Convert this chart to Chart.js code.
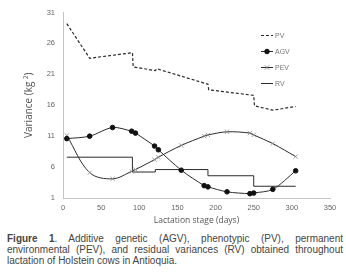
<!DOCTYPE html>
<html>
<head>
<meta charset="utf-8">
<script src="https://cdn.jsdelivr.net/npm/chart.js@4.4.0/dist/chart.umd.min.js"></script>
<style>
  html, body { margin: 0; padding: 0; background: #fff; }
  #wrap { position: relative; width: 346px; height: 230px; }
  #caption {
    width: 336px; margin: 3px 0 0 7px;
    font-family: "Liberation Sans", Arial, sans-serif;
    font-size: 10px; line-height: 11px; color: #444;
  }
  #caption .j { text-align: justify; text-align-last: justify; white-space: nowrap; }
</style>
</head>
<body>
<div id="wrap"><canvas id="myChart"></canvas></div>
<div id="caption">
  <div class="j"><b>Figure 1</b>. Additive genetic (AGV), phenotypic (PV), permanent</div>
  <div class="j">environmental (PEV), and residual variances (RV) obtained throughout</div>
  <div>lactation of Holstein cows in Antioquia.</div>
</div>
<script>
// lactation days of the test-day records
const days = [5, 35, 65, 90, 95, 120, 125, 155, 185, 190, 215, 245, 250, 275, 305];
const agv = [10.6, 11.0, 12.4, 11.8, 11.5, 9.4, 8.8, 5.5, 3.0, 2.8, 2.0, 1.7, 1.8, 2.4, 5.4];
const pev = [11.1, 5.1, 4.1, 5.3, 5.6, 7.2, 7.6, 9.5, 11.0, 11.2, 11.7, 11.5, 11.2, 9.8, 7.7];

// phenotypic variance (drops where residual class changes)
const pvDays = [5, 35, 91, 92, 121, 123, 190, 191, 250, 251, 275, 305];
const pv = [29.2, 23.6, 24.5, 22.2, 21.6, 21.9, 19.4, 18.5, 17.6, 15.9, 15.2, 15.8];

// residual variance, step classes
const rvDays = [5, 91, 121, 190, 250, 305];
const rv = [7.6, 5.2, 5.6, 4.6, 2.9, 2.9];

const xTicks = [0, 50, 100, 150, 200, 250, 300, 350];
const yTicks = [1, 6, 11, 16, 21, 26, 31];

const toXY = (xs, ys) => xs.map((x, i) => ({ x: x, y: ys[i] }));

const lineCol = '#2b2b2b';

// legend drawn inside the plot, Excel style (line with marker in the middle)
const innerLegend = {
    id: 'innerLegend',
    afterDraw(chart) {
        const ctx = chart.ctx;
        const area = chart.chartArea;
        const x0 = area.right - 69;
        let y = area.top + 23;
        ctx.save();
        ctx.font = '7px "Liberation Sans", Arial, sans-serif';
        ctx.textBaseline = 'middle';
        chart.data.datasets.forEach(ds => {
            ctx.strokeStyle = ds.borderColor;
            ctx.lineWidth = ds.borderWidth;
            ctx.setLineDash(ds.borderDash || []);
            ctx.beginPath();
            ctx.moveTo(x0, y);
            ctx.lineTo(x0 + 12, y);
            ctx.stroke();
            ctx.setLineDash([]);
            if (ds.pointRadius > 0) {
                ctx.fillStyle = ds.pointBackgroundColor;
                ctx.strokeStyle = ds.pointBorderColor;
                Chart.helpers.drawPoint(ctx, {
                    pointStyle: ds.pointStyle,
                    radius: ds.pointRadius,
                    borderWidth: 1
                }, x0 + 6, y);
            }
            ctx.fillStyle = '#777';
            ctx.fillText(ds.label, x0 + 14, y + 0.5);
            y += 16;
        });
        ctx.restore();
    }
};

const ctx = document.getElementById('myChart').getContext('2d');
new Chart(ctx, {
    type: 'line',
    data: {
        datasets: [{
            label: 'PV',
            data: toXY(pvDays, pv),
            borderColor: lineCol,
            borderWidth: 1.2,
            borderDash: [3, 2],
            pointRadius: 0,
            tension: 0
        }, {
            label: 'AGV',
            data: toXY(days, agv),
            borderColor: lineCol,
            borderWidth: 1,
            pointStyle: 'circle',
            pointRadius: 2.3,
            pointBackgroundColor: '#111',
            pointBorderColor: '#111',
            tension: 0.3
        }, {
            label: 'PEV',
            data: toXY(days, pev),
            borderColor: lineCol,
            borderWidth: 1,
            pointStyle: 'crossRot',
            pointRadius: 3,
            pointBorderColor: '#888',
            pointBorderWidth: 0.8,
            pointBackgroundColor: '#888',
            tension: 0.35
        }, {
            label: 'RV',
            data: toXY(rvDays, rv),
            borderColor: lineCol,
            borderWidth: 1,
            pointRadius: 0,
            stepped: true
        }]
    },
    options: {
        responsive: true,
        maintainAspectRatio: false,
        animation: false,
        layout: { padding: { top: 7, right: 16, left: 0, bottom: 0 } },
        plugins: {
            legend: { display: false },
            tooltip: { enabled: false }
        },
        scales: {
            x: {
                type: 'linear',
                min: 0,
                max: 350,
                afterBuildTicks: s => { s.ticks = xTicks.map(v => ({ value: v })); },
                afterFit: s => { s.height = 32; },
                grid: { display: false, drawTicks: false },
                border: { display: true, color: '#c4c4c4', width: 1 },
                ticks: {
                    color: '#666',
                    padding: 5,
                    maxRotation: 0,
                    font: { family: '"Liberation Sans", Arial, sans-serif', size: 7.5 }
                },
                title: {
                    display: true,
                    text: 'Lactation stage (days)',
                    color: '#555',
                    padding: { top: 0, bottom: 4 },
                    font: { family: '"Open Sans", "Liberation Sans", sans-serif', size: 8.5 }
                }
            },
            y: {
                min: 1,
                max: 31,
                afterBuildTicks: s => { s.ticks = yTicks.map(v => ({ value: v })); },
                afterFit: s => { s.width = 63; },
                grid: { display: false, drawTicks: false },
                border: { display: true, color: '#c4c4c4', width: 1 },
                ticks: {
                    color: '#666',
                    padding: 8,
                    font: { family: '"Liberation Sans", Arial, sans-serif', size: 7.5 }
                },
                title: {
                    display: true,
                    text: 'Variance (kg ²)',
                    color: '#555',
                    padding: { top: 23, bottom: 0 },
                    font: { family: '"Open Sans", "Liberation Sans", sans-serif', size: 10 }
                }
            }
        }
    },
    plugins: [innerLegend]
});
</script>
</body>
</html>
